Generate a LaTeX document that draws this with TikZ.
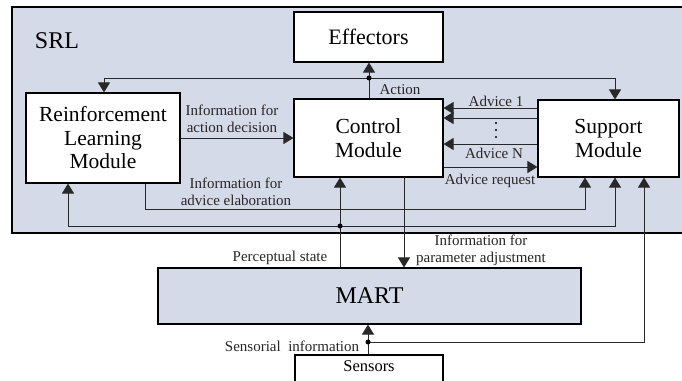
\documentclass[tikz,border=0pt]{standalone}
\usepackage{fontspec}
\setmainfont{Liberation Serif}
\usetikzlibrary{arrows.meta}
\definecolor{srlfill}{RGB}{213,218,232}
\definecolor{linegray}{RGB}{40,40,40}
\tikzset{
  box/.style={draw=black, line width=1.1pt, fill=white, inner sep=0pt, align=center,
    font=\fontsize{21.5}{23.5}\selectfont},
  arr/.style={draw=linegray, line width=0.9pt, -{Triangle[length=10pt,width=12pt]}},
  ln/.style={draw=linegray, line width=0.9pt},
  lbl/.style={font=\fontsize{15}{17}\selectfont, inner sep=0pt, align=center, text=black!85},
  dotnode/.style={circle, fill=black, inner sep=0pt, minimum size=5pt}
}
\begin{document}
\begin{tikzpicture}[x=1pt,y=-1pt]
\clip (0,0) rectangle (682,380);
\fill[white] (0,0) rectangle (682,380);
% SRL container
\node[draw=black, line width=1.1pt, fill=srlfill, minimum width=680pt, minimum height=226pt, inner sep=0pt] (srl) at (352,120) {};
\node[font=\fontsize{24}{26}\selectfont, inner sep=0pt] (srllbl) at (57,41) {SRL};
% boxes
\node[box, minimum width=149pt, minimum height=50pt, font=\fontsize{22}{24}\selectfont] (eff) at (368.5,37) {Effectors};
\node[box, minimum width=154pt, minimum height=90pt] (rl) at (103,138) {Reinforcement\\Learning\\Module};
\node[box, minimum width=149pt, minimum height=78pt] (ctrl) at (368.5,138) {Control\\Module};
\node[box, minimum width=141pt, minimum height=77pt] (sup) at (608.5,138.5) {Support\\Module};
\node[box, fill=srlfill, minimum width=423pt, minimum height=56pt, font=\fontsize{24}{26}\selectfont] (mart) at (369.5,296) {MART};
\node[box, minimum width=148pt, minimum height=50pt, font=\fontsize{16.5}{18}\selectfont, text depth=27pt] (sens) at (369,380) {Sensors};
% junction coordinates
\coordinate (dA) at (369,78);
\coordinate (dB) at (340,226);
\coordinate (dC) at (368,342);
% action
\draw[arr] (ctrl.north -| dA) -- (eff.south -| dA);
\draw[arr] (dA) -- (104,78) -- (rl.north -| 104,0);
\draw[arr] (dA) -- (615,78) -- (sup.north -| 615,0);
% info for action decision
\draw[arr] (rl.east) -- (ctrl.west);
% advice
\draw[arr] (sup.west |- 0,108) -- (ctrl.east |- 0,108);
\draw[arr] (sup.west |- 0,118) -- (ctrl.east |- 0,118);
\draw[arr] (sup.west |- 0,144) -- (ctrl.east |- 0,144);
\draw[arr] (ctrl.east |- 0,167) -- (sup.west |- 0,167);
\foreach \yy in {123,130,137} \fill[black] (496,\yy) circle (1.1pt);
% advice elaboration
\draw[arr] (rl.south -| 145,0) -- (145,209) -- (585,209) -- (sup.south -| 585,0);
% perceptual state
\draw[arr] (mart.north -| dB) -- (ctrl.south -| dB);
\draw[arr] (dB) -- (68,226) -- (rl.south -| 68,0);
\draw[arr] (dB) -- (615,226) -- (sup.south -| 615,0);
% parameter adjustment
\draw[arr] (ctrl.south -| 404,0) -- (mart.north -| 404,0);
% sensorial information
\draw[arr] (sens.north -| dC) -- (mart.south -| dC);
\draw[arr] (dC) -- (644,342) -- (sup.south -| 644,0);
% dots
\node[dotnode] (jA) at (dA) {};
\node[dotnode] (jB) at (dB) {};
\node[dotnode] (jC) at (dC) {};
% labels
\node[lbl] (lAction) at (400,90) {Action};
\node[lbl] (lAD) at (232,118.5) {Information for\\action decision};
\node[lbl] (lA1) at (496,101) {Advice 1};
\node[lbl] (lAN) at (494,153) {Advice N};
\node[lbl] (lAR) at (490,181) {Advice request};
\node[lbl] (lAE) at (236,191.5) {Information for\\advice elaboration};
\node[lbl] (lPS) at (280,258) {Perceptual state};
\node[lbl] (lPA) at (481,250.5) {Information for\\parameter adjustment};
\node[lbl] (lSI) at (292,346) {Sensorial\ \ information};
\end{tikzpicture}
\end{document}
